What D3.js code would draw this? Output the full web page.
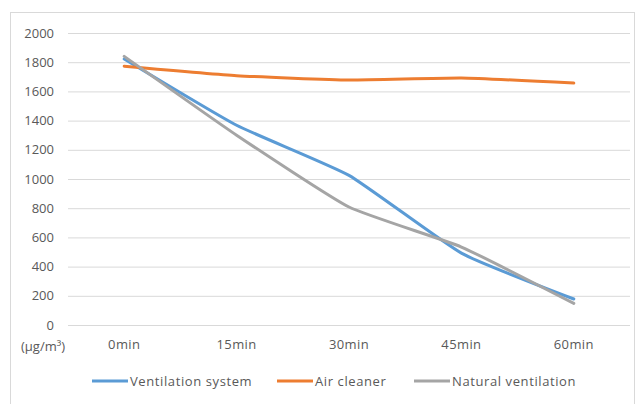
<!DOCTYPE html>
<html>
<head>
<meta charset="utf-8">
<script src="https://cdn.jsdelivr.net/npm/d3@7"></script>
<style>
  body { margin: 0; background: #fff; }
  text { font-family: "Open Sans", sans-serif; fill: #595959; }
</style>
</head>
<body>
<div id="chart"></div>
<script>
// chart data
const categories = ["0min", "15min", "30min", "45min", "60min"];
const ventilationSystem = [1822, 1368, 1025, 492, 178];
const airCleaner = [1773, 1708, 1678, 1692, 1657];
const naturalVentilation = [1840, 1300, 808, 534, 148];
const yTicks = [0, 200, 400, 600, 800, 1000, 1200, 1400, 1600, 1800, 2000];

const seriesList = [
  { name: "Ventilation system", values: ventilationSystem, color: "#5B9BD5" },
  { name: "Air cleaner", values: airCleaner, color: "#ED7D31" },
  { name: "Natural ventilation", values: naturalVentilation, color: "#A5A5A5" }
];

const width = 637;
const height = 404;
const margin = { top: 33, right: 7, bottom: 79, left: 68 };
const innerW = width - margin.left - margin.right;
const innerH = height - margin.top - margin.bottom;
const fontSize = "13px";

const svg = d3.select("#chart").append("svg")
  .attr("width", width)
  .attr("height", height);

// outer chart frame
svg.append("rect")
  .attr("x", 10.5)
  .attr("y", 12.5)
  .attr("width", 624)
  .attr("height", 400)
  .attr("fill", "none")
  .attr("stroke", "#D9D9D9");

const g = svg.append("g")
  .attr("transform", `translate(${margin.left},${margin.top})`);

const x = d3.scaleBand()
  .domain(categories)
  .range([0, innerW]);

const y = d3.scaleLinear()
  .domain([0, 2000])
  .range([innerH, 0]);

// gridlines + y labels
const gy = g.append("g")
  .call(d3.axisLeft(y).tickValues(yTicks).tickFormat(d3.format("d"))
    .tickSize(-innerW).tickPadding(14));
gy.select(".domain").remove();
gy.selectAll(".tick line").attr("stroke", "#D9D9D9");
gy.selectAll(".tick text")
  .style("font-size", fontSize)
  .attr("fill", "#595959");

// x labels
const gx = g.append("g")
  .attr("transform", `translate(0,${innerH})`)
  .call(d3.axisBottom(x).tickSize(0).tickPadding(15));
gx.select(".domain").remove();
gx.selectAll(".tick text")
  .style("font-size", fontSize)
  .style("letter-spacing", "0.4px")
  .attr("fill", "#595959");

// unit label
svg.append("text")
  .attr("x", 21)
  .attr("y", margin.top + innerH + 26)
  .style("font-size", fontSize)
  .text("(\u03BCg/m\u00B3)");

const line = d3.line()
  .x((d, i) => x(categories[i]) + x.bandwidth() / 2)
  .y(d => y(d))
  .curve(d3.curveCardinal.tension(0.55));

g.selectAll("path.series")
  .data(seriesList)
  .join("path")
  .attr("class", "series")
  .attr("fill", "none")
  .attr("stroke", d => d.color)
  .attr("stroke-width", 3)
  .attr("stroke-linecap", "round")
  .attr("stroke-linejoin", "round")
  .attr("d", d => line(d.values));

// legend
const legendX = [92, 277, 414];
const legend = svg.append("g")
  .attr("transform", "translate(0,381)");

const items = legend.selectAll("g")
  .data(seriesList)
  .join("g")
  .attr("transform", (d, i) => `translate(${legendX[i]},0)`);

items.append("line")
  .attr("x1", 0)
  .attr("x2", 36)
  .attr("stroke", d => d.color)
  .attr("stroke-width", 3);

items.append("text")
  .attr("x", 38)
  .attr("dy", "0.35em")
  .style("font-size", fontSize)
  .style("letter-spacing", "0.6px")
  .text(d => d.name);
</script>
</body>
</html>
